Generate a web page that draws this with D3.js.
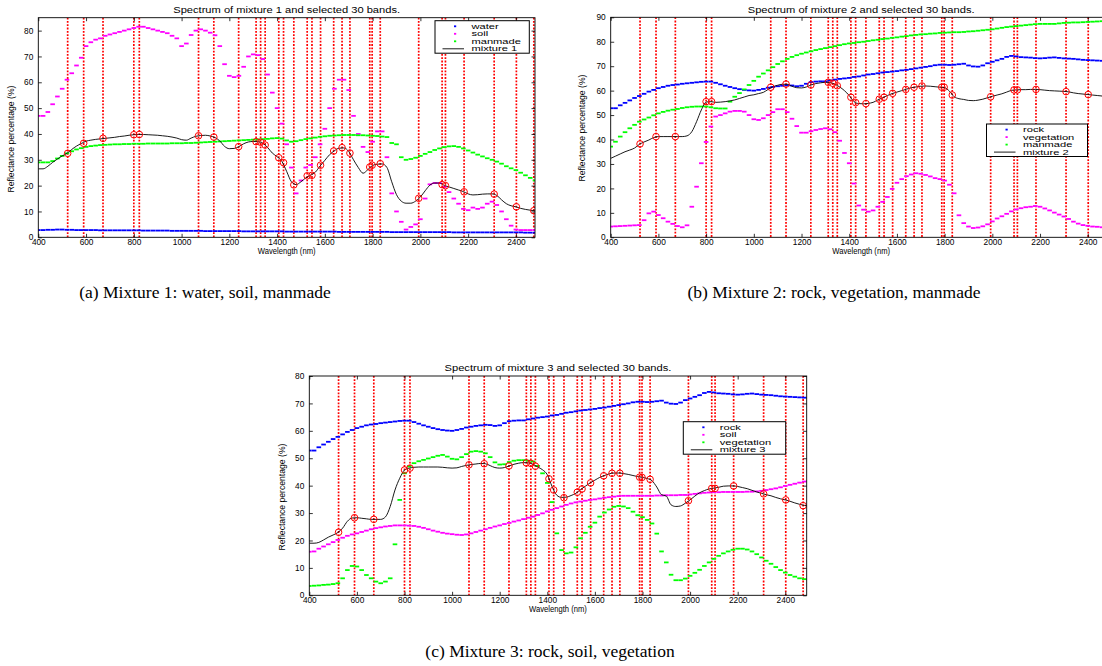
<!DOCTYPE html>
<html>
<head>
<meta charset="utf-8">
<script src="https://cdn.jsdelivr.net/npm/d3@7"></script>
<style>
body { margin: 0; background: #fff; }
svg text { font-family: "Liberation Sans", Arial, Helvetica, sans-serif; }
</style>
</head>
<body>
<svg id="fig" width="1102" height="666"></svg>
<script>
// sampling grid (nm)
const wavelengths = [
    400, 420, 440, 460, 480, 500, 520, 540, 560, 580,
    600, 620, 640, 660, 680, 700, 720, 740, 760, 780,
    800, 820, 840, 860, 880, 900, 920, 940, 960, 980,
    1000, 1020, 1040, 1060, 1080, 1100, 1120, 1140, 1160, 1180,
    1200, 1220, 1240, 1260, 1280, 1300, 1320, 1340, 1360, 1380,
    1400, 1420, 1440, 1460, 1480, 1500, 1520, 1540, 1560, 1580,
    1600, 1620, 1640, 1660, 1680, 1700, 1720, 1740, 1760, 1780,
    1800, 1820, 1840, 1860, 1880, 1900, 1920, 1940, 1960, 1980,
    2000, 2020, 2040, 2060, 2080, 2100, 2120, 2140, 2160, 2180,
    2200, 2220, 2240, 2260, 2280, 2300, 2320, 2340, 2360, 2380,
    2400, 2420, 2440, 2460, 2480, 2500]

// the 30 selected bands (nm)
const bands = [523, 590, 671, 800, 823, 1071, 1135, 1239, 1312, 1331, 1350, 1407, 1427, 1470, 1526,
    1546, 1582, 1637, 1672, 1705, 1788, 1798, 1832, 1993, 2091, 2105, 2183, 2309, 2402, 2475]

const xTicks = [400, 600, 800, 1000, 1200, 1400, 1600, 1800, 2000, 2200, 2400]
const yTicksA = [0, 10, 20, 30, 40, 50, 60, 70, 80]
const yTicksB = [0, 10, 20, 30, 40, 50, 60, 70, 80, 90]
const yTicksC = [0, 10, 20, 30, 40, 50, 60, 70, 80]

// ---- mixture 1 ----
const water1 = [
    2.8, 2.8, 2.9, 2.9, 3.0, 3.0, 2.9, 2.9, 2.8, 2.8,
    2.8, 2.8, 2.8, 2.7, 2.7, 2.7, 2.7, 2.7, 2.7, 2.7,
    2.7, 2.7, 2.6, 2.6, 2.6, 2.6, 2.6, 2.6, 2.5, 2.5,
    2.5, 2.5, 2.5, 2.5, 2.5, 2.4, 2.4, 2.4, 2.4, 2.4,
    2.4, 2.4, 2.4, 2.3, 2.3, 2.3, 2.3, 2.3, 2.3, 2.3,
    2.3, 2.3, 2.2, 2.2, 2.2, 2.2, 2.2, 2.2, 2.2, 2.2,
    2.2, 2.2, 2.2, 2.1, 2.1, 2.1, 2.1, 2.1, 2.1, 2.1,
    2.1, 2.1, 2.1, 2.1, 2.0, 2.0, 2.0, 2.0, 2.0, 2.0,
    2.0, 2.0, 2.0, 2.0, 2.0, 2.0, 2.0, 1.9, 1.9, 1.9,
    1.9, 1.9, 1.9, 1.9, 1.9, 1.9, 1.9, 1.9, 1.9, 1.9,
    1.9, 1.9, 1.8, 1.8, 1.8, 1.8]
const soil1 = [
    47, 47, 48.5, 51.5, 54.5, 57.5, 61, 63.5, 66.5, 69.5,
    74, 75.5, 76.5, 77, 78, 78.5, 79, 79.5, 80, 80.5,
    81, 81.5, 81.5, 81, 80.5, 80, 79.5, 79, 78, 77,
    74, 75, 78.3, 80, 80.5, 80, 79.2, 78.2, 74, 67,
    62.5, 62, 62.5, 66, 70, 70.8, 70.5, 69, 63, 56,
    50, 44, 36, 27, 17, 22, 27, 28, 31, 36,
    42, 50, 57.5, 61, 61, 57, 47, 40, 35, 33,
    37, 41, 41, 31, 17, 10, 6, 3, 4, 5,
    7, 15, 20.5, 21, 21, 19.5, 17.5, 15, 13, 11,
    10.5, 11.5, 11, 11.5, 13, 13.8, 12.5, 10, 7, 4.5,
    3, 2.8, 2.8, 2.8, 2.8, 2.8]
const manmade1 = [
    29, 29, 29, 29.5, 30.5, 31.5, 32.5, 33.3, 34, 34.5,
    35, 35.3, 35.5, 35.7, 35.8, 35.9, 36, 36, 36.1, 36.1,
    36.2, 36.2, 36.2, 36.3, 36.3, 36.3, 36.3, 36.3, 36.4, 36.4,
    36.4, 36.5, 36.5, 36.6, 36.7, 36.8, 36.9, 37, 37.1, 37.2,
    37.3, 37.4, 37.5, 37.6, 37.7, 37.8, 37.9, 38, 38.1, 38.3,
    38.4, 38.2, 37.5, 37, 37.2, 37.6, 38, 38.3, 38.6, 38.9,
    39.1, 39.3, 39.4, 39.5, 39.6, 39.6, 39.6, 39.5, 39.5, 39.4,
    39.3, 39.2, 39, 38.8, 36.5, 36, 31, 30, 30.3, 30.8,
    31.5, 32.3, 33, 33.8, 34.4, 34.9, 35.2, 35.3, 35, 34.4,
    33.6, 32.8, 32, 31.3, 30.6, 30, 29.3, 28.5, 27.5, 26.7,
    26, 25, 24, 23, 22, 21.5]
const mixture1 = [
    26.5, 26.5, 27.5, 29, 30.3, 31.5, 32.5, 34, 35.3, 36.3,
    37.2, 37.6, 37.9, 38.1, 38.3, 38.5, 38.7, 39, 39.2, 39.5,
    39.7, 39.8, 39.8, 39.7, 39.6, 39.5, 39.3, 39.1, 38.8, 38.4,
    37.8, 37.6, 38.4, 39.1, 39.4, 39.5, 39.2, 38.6, 37.3, 35.2,
    34.3, 34.4, 35.1, 36.2, 36.9, 37.1, 37, 36.4, 34.8, 32.6,
    31.2, 29.4, 25.5, 21.5, 20.4, 21.5, 23, 24, 25.2, 27.6,
    29.8, 32, 33.5, 34.5, 34.6, 33.2, 30, 27, 24.8, 26.2,
    27.8, 28.3, 28.4, 27, 21.5, 16.5, 14, 13.2, 13.2, 14,
    15.6, 18, 20.2, 21, 21, 20.1, 19.5, 18.9, 18.3, 17.7,
    16.8, 16.4, 16.5, 16.7, 16.8, 16.8, 16.2, 14.5, 13, 12.2,
    11.8, 11.2, 10.8, 10.5, 10.2, 10]
const mix1AtBands = [32.5, 36.4, 38.3, 39.7, 39.8, 39.3, 38.8, 35.1, 37, 36.8, 35.7, 30.8, 28.9, 20.3, 23.8,
    24, 27.9, 33.4, 34.7, 32.6, 27.2, 27.9, 28.5, 15.1, 20.4, 20, 17.6, 16.7, 11.8, 10.3]

// ---- rock (mixtures 2 and 3) ----
const rock = [
    52.8, 52.8, 54, 55, 56, 57, 57.8, 58.7, 59.6, 60.3,
    61, 61.5, 62, 62.3, 62.5, 62.8, 63, 63.2, 63.4, 63.6,
    63.7, 63.7, 63.2, 62.6, 62, 61.5, 61, 60.6, 60.3, 60.1,
    60, 60.3, 60.7, 61.2, 61.5, 61.8, 62, 62.2, 62.1, 61.8,
    62, 62.8, 63.5, 63.7, 63.8, 63.8, 64.2, 64.5, 64.8, 65,
    65.2, 65.6, 65.8, 66.2, 66.6, 66.8, 67.1, 67.4, 67.6, 67.8,
    68, 68.3, 68.5, 68.8, 69.1, 69.4, 69.7, 70, 70.4, 70.6,
    70.6, 70.5, 70.6, 70.8, 71, 70.3, 69.9, 69.8, 70.3, 71.2,
    71.8, 72.4, 73, 73.8, 74.2, 74, 73.7, 73.6, 73.5, 73.3,
    73.2, 73.3, 73.5, 73.6, 73.4, 73.2, 73.1, 73, 72.8, 72.6,
    72.5, 72.4, 72.3, 72.2, 72.1, 72]

// ---- mixture 2 ----
const vegetation2 = [
    4.4, 4.5, 4.6, 4.7, 4.8, 4.9, 5, 7, 9.8, 10.5,
    9.1, 7.8, 6.4, 5.5, 4.6, 4.1, 4.9, 12.5, 20.7, 30.3,
    39, 45.3, 49.4, 50, 50.7, 51.4, 51.7, 51.7, 51.4, 50,
    48.3, 48, 48.7, 50, 51.2, 52.4, 52.4, 51.2, 48.5, 45.5,
    42.8, 42.8, 43.4, 43.9, 44.3, 44.6, 44.2, 43, 39.5, 34.5,
    30.3, 22, 13, 11.3, 10.5, 11, 12.5, 14.5, 16.5, 19.8,
    22.3, 23.8, 25, 25.7, 26.2, 26, 25.5, 24.9, 24.2, 23.8,
    23.2, 21.5, 18, 9, 5.8, 4.4, 3.8, 4, 4.5, 5.3,
    6.5, 7.7, 8.6, 9.6, 10.6, 11.4, 11.9, 12.3, 12.5, 12.8,
    12.5, 11.8, 11, 10.1, 9.3, 8.5, 7.5, 6.4, 5.6, 5,
    4.7, 4.4, 4.3, 4.1, 4, 4]
const manmade2 = [
    37.1, 39.1, 41.2, 43, 44.6, 46, 47.3, 48.2, 49, 49.9,
    50.7, 51.3, 51.8, 52.2, 52.5, 52.9, 53.2, 53.4, 53.5, 53.5,
    53.5, 53.2, 52.8, 52.7, 52.7, 55.5, 57.5, 59, 60.5, 62.3,
    64, 65.7, 67, 68.3, 69.6, 70.9, 72, 73, 73.8, 74.5,
    75.1, 75.6, 76.1, 76.6, 77, 77.4, 77.8, 78.2, 78.6, 79,
    79.3, 79.5, 79.8, 80, 80.3, 80.6, 80.8, 81.1, 81.3, 81.6,
    81.8, 82.1, 82.3, 82.6, 82.8, 83, 83.1, 83.3, 83.4, 83.6,
    83.7, 83.8, 83.9, 83.9, 84, 84.2, 84.3, 84.5, 84.7, 84.9,
    85.1, 85.4, 85.7, 86, 86.2, 86.4, 86.6, 86.8, 87, 87.2,
    87.3, 87.3, 87.3, 87.3, 87.5, 87.7, 87.8, 87.9, 87.9, 88,
    88.1, 88.2, 88.3, 88.4, 88.6, 88.6]
const mixture2 = [
    32.3, 33.2, 34.1, 35, 35.7, 36.5, 38, 39, 39.8, 40.8,
    41.2, 41.2, 41.2, 41.2, 41.2, 41.2, 41.5, 43.2, 47.3, 52.1,
    55.3, 55.5, 55.2, 55.3, 55.5, 55.8, 56.2, 56.8, 57.4, 58,
    58.3, 58.8, 59.3, 60.5, 61.6, 62.2, 62.6, 62.6, 61.8, 61.2,
    61.1, 61.5, 62.3, 62.9, 63.2, 63.4, 63.3, 62.6, 61.5, 60,
    58, 55.5, 54.7, 54.6, 54.8, 55.2, 56.2, 57.1, 58, 58.8,
    59.4, 60, 60.6, 61.2, 61.5, 61.8, 61.9, 61.8, 61.6, 61.4,
    61.2, 59.8, 57.5, 56.7, 56.4, 56, 55.9, 56.1, 56.5, 57.1,
    57.7, 58.2, 58.7, 59.4, 60.1, 60.3, 60.4, 60.4, 60.5, 60.5,
    60.4, 60.2, 60, 59.9, 59.8, 59.7, 59.5, 59.1, 58.8, 58.6,
    58.4, 58.2, 58, 57.8, 57.7, 57.6]
const mix2AtBands = [38.2, 41.2, 41.2, 55.5, 55.5, 61.4, 62.7, 62.3, 63.4, 63, 62, 57.3, 55.1, 54.7, 56.5,
    57.3, 58.9, 60.5, 61.4, 61.9, 61.4, 61.4, 58.2, 57.5, 60.3, 60.3, 60.5, 59.6, 58.4, 57.7]

// ---- mixture 3 ----
const soil3 = [
    15.9, 16, 17, 17.8, 18.6, 19.4, 20.2, 21, 21.7, 22.2,
    22.6, 23.1, 23.6, 24.1, 24.5, 24.8, 25.1, 25.3, 25.5, 25.5,
    25.5, 25.4, 25.3, 25, 24.6, 24.1, 23.6, 23.2, 22.8, 22.5,
    22.3, 22.1, 22, 22.2, 22.6, 23.1, 23.6, 24.1, 24.6, 25.1,
    25.5, 26, 26.4, 26.9, 27.3, 27.8, 28.3, 28.7, 29.3, 29.9,
    30.6, 31.2, 31.8, 32.4, 33, 33.5, 33.9, 34.2, 34.5, 34.8,
    35, 35.3, 35.6, 35.8, 36, 36.2, 36.3, 36.3, 36.3, 36.3,
    36.3, 36.3, 36.3, 36.4, 36.4, 36.5, 36.5, 36.5, 36.6, 36.6,
    36.8, 37, 37.2, 37.4, 37.5, 37.6, 37.6, 37.7, 37.7, 37.7,
    37.7, 37.7, 37.8, 37.8, 37.9, 38.1, 38.4, 38.7, 39, 39.4,
    39.9, 40.3, 40.7, 41.1, 41.5, 41.9]
const vegetation3 = [
    3.4, 3.5, 3.6, 3.8, 3.9, 4.1, 4.4, 6.2, 9.2, 10.7,
    10.5, 9.2, 7.4, 6.2, 5, 4.4, 5, 6.2, 18.6, 34.8,
    44.5, 47, 48.2, 48.9, 49.4, 49.9, 50.4, 50.9, 51.2, 50.6,
    49.8, 49.6, 50.4, 51.5, 52.4, 52.6, 52.4, 51.8, 50.4, 48.5,
    47.7, 47.8, 48.6, 49.1, 49.3, 49.3, 49.1, 48.8, 47.2, 44.5,
    41, 34, 22.6, 16.5, 15.3, 15.6, 17.5, 20.8, 22.8, 25,
    26.5, 28.7, 30.2, 31.3, 32.3, 32.6, 32.4, 31.8, 30.5, 29.2,
    28.5, 27.5, 26.2, 22.5, 16, 12, 7.5, 5.5, 5.5, 6.1,
    7.1, 8.2, 9.3, 10.7, 12, 13.3, 14.4, 15.3, 16, 16.6,
    17, 17, 16.7, 16, 15, 13.8, 12.6, 11.5, 10.3, 9.2,
    8.3, 7.4, 6.8, 6.2, 5.9, 5.7]
const mixture3 = [
    19, 19, 19.3, 20.2, 21.2, 22, 22.9, 24.5, 27, 28.2,
    28.3, 28.1, 27.9, 27.7, 27.7, 27.7, 28.6, 32.4, 38.4, 42.7,
    45.7, 46.4, 46.7, 46.8, 46.8, 46.8, 46.8, 46.8, 46.7, 46.5,
    46.4, 46.5, 47, 47.4, 47.7, 47.9, 48.1, 48, 47.3, 46.6,
    46.4, 46.6, 47.2, 47.8, 48.2, 48.4, 48.3, 47.8, 46.8, 45.8,
    44, 39.7, 36.5, 35.7, 35.8, 36.4, 37.2, 38.6, 39.8, 41,
    42, 43, 43.7, 44.3, 44.6, 44.6, 44.4, 44.1, 43.7, 43.3,
    43, 42.6, 41.8, 39.5, 36.7, 36.2, 33, 32.4, 32.6, 33.6,
    34.8, 36.2, 37.4, 38.2, 38.8, 39.1, 39.4, 39.8, 39.9, 39.9,
    39.7, 39.3, 38.9, 38.3, 37.7, 37.2, 36.7, 36.3, 35.7, 35.2,
    34.8, 34.3, 33.7, 33.2, 32.8, 32.6]
const mix3AtBands = [23, 28.3, 27.7, 45.7, 46.4, 47.6, 48, 47.2, 48.3, 48.1, 47.1, 42.5, 38.4, 35.6, 37.6,
    38.8, 41, 43.6, 44.5, 44.5, 43.1, 43, 42.3, 34.5, 39, 39, 39.9, 37, 34.8, 32.7]

const BLUE = "#0000ff", MAGENTA = "#ff00ff", GREEN = "#00ff00"

const panels = [
    {id: "a", left: 38.3, right: 535, top: 17.7, bottom: 237.3, xDomain: [400, 2480], yDomain: [0, 85], yTicks: yTicksA,
     title: "Spectrum of mixture 1 and selected 30 bands.", ylabelX: 14, ylabelY: 139,
     series: [{name: "water", values: water1, color: BLUE}, {name: "soil", values: soil1, color: MAGENTA},
              {name: "manmade", values: manmade1, color: GREEN}],
     mixture: mixture1, mixName: "mixture 1", atBands: mix1AtBands,
     legend: {x: 435, y: 20.7, w: 94.3}},
    {id: "b", left: 610.7, right: 1111.6, top: 17.3, bottom: 237.3, xDomain: [400, 2500], yDomain: [0, 90], yTicks: yTicksB,
     title: "Spectrum of mixture 2 and selected 30 bands.", ylabelX: 585, ylabelY: 128,
     series: [{name: "rock", values: rock, color: BLUE}, {name: "vegetation", values: vegetation2, color: MAGENTA},
              {name: "manmade", values: manmade2, color: GREEN}],
     mixture: mixture2, mixName: "mixture 2", atBands: mix2AtBands,
     legend: {x: 986.5, y: 124, w: 101}},
    {id: "c", left: 309.3, right: 806.7, top: 376, bottom: 595.3, xDomain: [400, 2490], yDomain: [0, 80], yTicks: yTicksC,
     title: "Spectrum of mixture 3 and selected 30 bands.", ylabelX: 285, ylabelY: 497,
     series: [{name: "rock", values: rock, color: BLUE}, {name: "soil", values: soil3, color: MAGENTA},
              {name: "vegetation", values: vegetation3, color: GREEN}],
     mixture: mixture3, mixName: "mixture 3", atBands: mix3AtBands,
     legend: {x: 683.3, y: 421.7, w: 102.4}}
]

const captions = [
    {text: "(a) Mixture 1: water, soil, manmade", x: 205, y: 298},
    {text: "(b) Mixture 2: rock, vegetation, manmade", x: 834, y: 298},
    {text: "(c) Mixture 3: rock, soil, vegetation", x: 550, y: 657}
]

const svg = d3.select("#fig")
svg.append("rect").attr("width", 1102).attr("height", 666).attr("fill", "#fff")

const FS = 8.3      // axis text
const LFS = 6.6     // legend text

// the matlab export stretched titles and legend text sideways
function stretch(sel, k) {
    sel.each(function () {
        const w = this.getComputedTextLength()
        d3.select(this).attr("textLength", w * k).attr("lengthAdjust", "spacingAndGlyphs")
    })
}

function styleAxis(g) {
    g.attr("font-family", null).attr("font-size", FS)
    g.select(".domain").remove()
    g.selectAll(".tick line").attr("stroke", "#000").attr("stroke-width", 0.8)
    g.selectAll("text").attr("fill", "#000")
}

function drawPanel(p) {
    let x = d3.scaleLinear().domain(p.xDomain).range([p.left, p.right])
    let y = d3.scaleLinear().domain(p.yDomain).range([p.bottom, p.top])
    let g = svg.append("g")

    g.append("clipPath").attr("id", "clip-" + p.id).append("rect")
        .attr("x", p.left).attr("y", p.top)
        .attr("width", p.right - p.left).attr("height", p.bottom - p.top)
    let plot = g.append("g").attr("clip-path", `url(#clip-${p.id})`)

    // selected bands
    plot.selectAll(".band").data(bands).enter().append("line")
        .attr("class", "band")
        .attr("x1", d => x(d)).attr("x2", d => x(d))
        .attr("y1", p.top).attr("y2", p.bottom)
        .attr("stroke", "#ff0000").attr("stroke-width", 1.7)
        .attr("stroke-dasharray", "1.8,1.5")

    // endmember spectra drawn as point markers
    p.series.forEach(s => {
        plot.append("g").selectAll("rect")
            .data(s.values.map((v, i) => [wavelengths[i], v]))
            .enter().append("rect")
            .attr("x", d => x(d[0]) - 2.3).attr("y", d => y(d[1]) - 0.9)
            .attr("width", 4.6).attr("height", 1.8)
            .attr("fill", s.color)
    })

    // mixture spectrum
    let line = d3.line().x(d => x(d[0])).y(d => y(d[1])).curve(d3.curveMonotoneX)
    plot.append("path")
        .datum(p.mixture.map((v, i) => [wavelengths[i], v]))
        .attr("d", line)
        .attr("fill", "none").attr("stroke", "#000").attr("stroke-width", 0.9)

    // mixture value at the selected bands
    plot.selectAll(".sel").data(bands.map((b, i) => [b, p.atBands[i]])).enter().append("circle")
        .attr("class", "sel")
        .attr("cx", d => x(d[0])).attr("cy", d => y(d[1])).attr("r", 3.3)
        .attr("fill", "none").attr("stroke", "#ff0000").attr("stroke-width", 1)

    // axes, ticks pointing inwards on all four sides
    let fmt = d3.format("d")
    g.append("g").attr("transform", `translate(0,${p.bottom})`)
        .call(d3.axisBottom(x).tickValues(xTicks).tickFormat(fmt).tickSize(-3.5).tickPadding(2.2).tickSizeOuter(0))
        .call(styleAxis)
    g.append("g").attr("transform", `translate(0,${p.top})`)
        .call(d3.axisTop(x).tickValues(xTicks).tickSize(-3.5).tickFormat("").tickSizeOuter(0))
        .call(styleAxis)
    g.append("g").attr("transform", `translate(${p.left},0)`)
        .call(d3.axisLeft(y).tickValues(p.yTicks).tickFormat(fmt).tickSize(-3.5).tickPadding(5).tickSizeOuter(0))
        .call(styleAxis)
    g.append("g").attr("transform", `translate(${p.right},0)`)
        .call(d3.axisRight(y).tickValues(p.yTicks).tickSize(-3.5).tickFormat("").tickSizeOuter(0))
        .call(styleAxis)

    g.append("rect")
        .attr("x", p.left).attr("y", p.top)
        .attr("width", p.right - p.left).attr("height", p.bottom - p.top)
        .attr("fill", "none").attr("stroke", "#000").attr("stroke-width", 0.9)

    // texts
    let midX = (p.left + p.right) / 2
    g.append("text").attr("x", midX).attr("y", p.top - 4.6)
        .attr("text-anchor", "middle").attr("font-size", FS).text(p.title)
        .call(stretch, 1.34)
    g.append("text").attr("x", midX).attr("y", p.bottom + 16.2)
        .attr("text-anchor", "middle").attr("font-size", FS).text("Wavelength (nm)")
        .call(stretch, 0.92)
    g.append("text")
        .attr("transform", `translate(${p.ylabelX},${p.ylabelY}) rotate(-90)`)
        .attr("text-anchor", "middle").attr("font-size", FS).text("Reflectance percentage (%)")
        .call(stretch, 1.04)

    // legend
    let L = p.legend
    let lg = g.append("g").attr("transform", `translate(${L.x},${L.y})`)
    lg.append("rect").attr("width", L.w).attr("height", 32.5)
        .attr("fill", "#fff").attr("stroke", "#000").attr("stroke-width", 1)
    let rows = p.series.map(s => ({name: s.name, color: s.color, line: false}))
        .concat([{name: p.mixName, color: "#000", line: true}])
    rows.forEach((r, i) => {
        let cy = 5.6 + 7.5 * i
        if (r.line) {
            lg.append("line").attr("x1", 7.5).attr("x2", 29).attr("y1", cy).attr("y2", cy)
                .attr("stroke", "#000").attr("stroke-width", 0.9)
        } else {
            lg.append("rect").attr("x", 19).attr("y", cy - 0.9).attr("width", 2.2).attr("height", 1.8)
                .attr("fill", r.color)
        }
        lg.append("text").attr("x", 36.5).attr("y", cy + 2.4).attr("font-size", LFS).text(r.name)
            .call(stretch, 1.34 * FS / LFS)
    })
}

panels.forEach(drawPanel)

svg.selectAll(".caption").data(captions).enter().append("text")
    .attr("class", "caption")
    .attr("x", d => d.x).attr("y", d => d.y)
    .attr("text-anchor", "middle")
    .style("font-family", "'Liberation Serif', 'Times New Roman', Times, serif")
    .attr("font-size", 17.5)
    .text(d => d.text)
</script>
</body>
</html>
